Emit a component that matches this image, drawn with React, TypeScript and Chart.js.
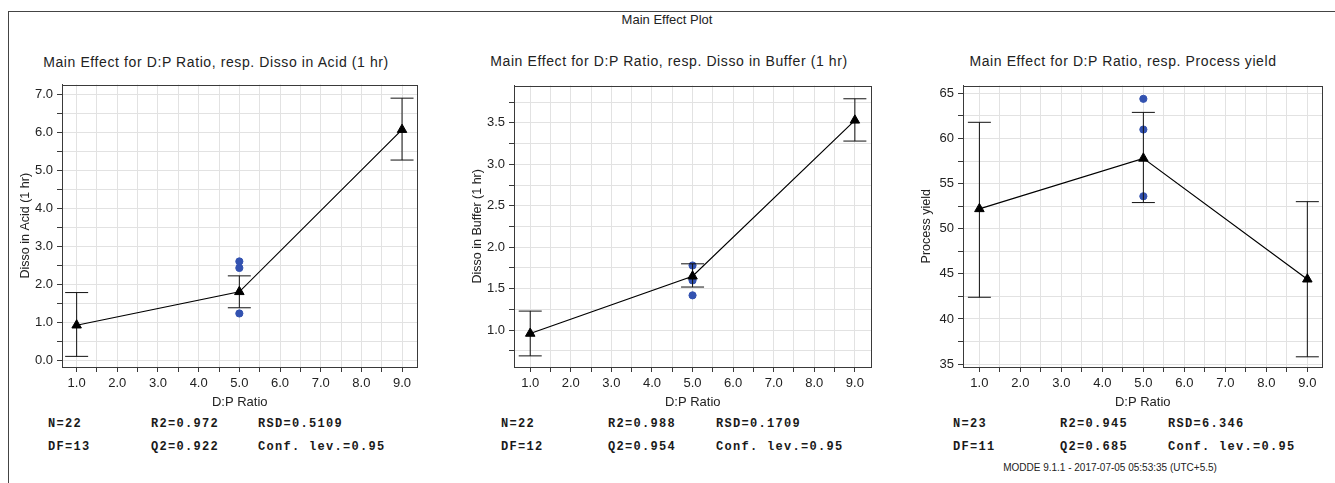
import React, { useEffect, useRef } from "react";
import { Chart, registerables } from "chart.js";

Chart.register(...registerables);

// ---------------- data ----------------
const xLevels = [1, 5, 9];
const obsX = 5;

const acidMean = [0.92, 1.8, 6.07];
const acidLow = [0.1, 1.38, 5.27];
const acidHigh = [1.78, 2.22, 6.9];
const acidObs = [2.6, 2.43, 1.23];

const bufferMean = [0.96, 1.65, 3.53];
const bufferLow = [0.69, 1.52, 3.28];
const bufferHigh = [1.23, 1.8, 3.79];
const bufferObs = [1.78, 1.6, 1.42];

const yieldMean = [52.2, 57.8, 44.4];
const yieldLow = [42.4, 52.9, 35.8];
const yieldHigh = [61.8, 62.9, 53.0];
const yieldObs = [64.4, 61.0, 53.6];

const panelTitles = [
  "Main Effect for D:P Ratio, resp. Disso in Acid (1 hr)",
  "Main Effect for D:P Ratio, resp. Disso in Buffer (1 hr)",
  "Main Effect for D:P Ratio, resp. Process yield",
];
const yTitles = ["Disso in Acid (1 hr)", "Disso in Buffer (1 hr)", "Process yield"];
const xTitle = "D:P Ratio";

const statsCol1 = [["N=22", "DF=13"], ["N=22", "DF=12"], ["N=23", "DF=11"]];
const statsCol2 = [["R2=0.972", "Q2=0.922"], ["R2=0.988", "Q2=0.954"], ["R2=0.945", "Q2=0.685"]];
const statsCol3 = [["RSD=0.5109", "Conf. lev.=0.95"], ["RSD=0.1709", "Conf. lev.=0.95"], ["RSD=6.346", "Conf. lev.=0.95"]];

// ---------------- layout ----------------
const FONT = "'Liberation Sans', Arial, sans-serif";
const MONO = "'Liberation Mono', 'Courier New', monospace";
const Y_W = 48;
const X_H = 44;
const PAD_T = 10;
const PAD_R = 2;

type Panel = {
  plot: { l: number; t: number; r: number; b: number };
  mean: number[];
  low: number[];
  high: number[];
  obs: number[];
  yMin: number;
  yMax: number;
  yStep: number;
  yLabelStep: number;
  yDigits: number;
  yTitle: string;
  xMin: number;
  xMax: number;
};

const panels: Panel[] = [
  { plot: { l: 62, t: 82, r: 428, b: 367 }, mean: acidMean, low: acidLow, high: acidHigh, obs: acidObs,
    yMin: -0.18, yMax: 7.26, yStep: 0.5, yLabelStep: 1, yDigits: 1, yTitle: yTitles[0], xMin: 0.64, xMax: 9.38 },
  { plot: { l: 514, t: 83, r: 882, b: 367 }, mean: bufferMean, low: bufferLow, high: bufferHigh, obs: bufferObs,
    yMin: 0.556, yMax: 3.95, yStep: 0.25, yLabelStep: 0.5, yDigits: 1, yTitle: yTitles[1], xMin: 0.6, xMax: 9.41 },
  { plot: { l: 963, t: 83, r: 1333, b: 367 }, mean: yieldMean, low: yieldLow, high: yieldHigh, obs: yieldObs,
    yMin: 34.67, yMax: 65.88, yStep: 2.5, yLabelStep: 5, yDigits: 0, yTitle: yTitles[2], xMin: 0.6, xMax: 9.37 },
];

const subtitlePos = [
  { x: 216, y: 62 },
  { x: 669, y: 61 },
  { x: 1123, y: 61 },
];
const statsX = [
  [48, 151, 258],
  [501, 608, 716],
  [953, 1060, 1168],
];

const isMult = (v: number, s: number) => Math.abs(v / s - Math.round(v / s)) < 1e-6;

const borderPlugin = {
  id: "plotBorder",
  afterDatasetsDraw(chart: any) {
    const a = chart.chartArea;
    const ctx = chart.ctx;
    ctx.save();
    ctx.strokeStyle = "#3a3a3a";
    ctx.lineWidth = 1;
    ctx.strokeRect(Math.round(a.left) + 0.5, Math.round(a.top) + 0.5, Math.round(a.right - a.left) - 1, Math.round(a.bottom - a.top) - 1);
    ctx.restore();
  },
};

function PanelChart({ p }: { p: Panel }) {
  const ref = useRef<HTMLCanvasElement | null>(null);
  const left = p.plot.l - Y_W;
  const top = p.plot.t - PAD_T;
  const width = p.plot.r + PAD_R - left;
  const height = p.plot.b + X_H - top;

  useEffect(() => {
    if (!ref.current) return;
    const datasets: any[] = [];
    datasets.push({
      data: xLevels.map((x, i) => ({ x, y: p.mean[i] })),
      showLine: true,
      borderColor: "#000",
      borderWidth: 1.2,
      pointStyle: "triangle",
      pointRadius: 5.5,
      pointBackgroundColor: "#000",
      pointBorderColor: "#000",
      pointBorderWidth: 1,
    });
    xLevels.forEach((x, i) => {
      datasets.push({
        data: [{ x, y: p.low[i] }, { x, y: p.high[i] }],
        showLine: true,
        borderColor: "#111",
        borderWidth: 1,
        pointRadius: 0,
      });
    });
    datasets.push({
      data: xLevels.flatMap((x, i) => [{ x, y: p.low[i] }, { x, y: p.high[i] }]),
      showLine: false,
      pointStyle: "line",
      pointRadius: 11.5,
      pointBorderColor: "#111",
      borderColor: "#111",
      pointBorderWidth: 1,
    });
    datasets.push({
      data: p.obs.map((y) => ({ x: obsX, y })),
      showLine: false,
      pointStyle: "circle",
      pointRadius: 3.6,
      pointBackgroundColor: "#3352b0",
      pointBorderColor: "#3352b0",
      backgroundColor: "#3352b0",
      borderColor: "#3352b0",
    });

    const chart = new Chart(ref.current, {
      type: "scatter",
      data: { datasets },
      plugins: [borderPlugin],
      options: {
        responsive: false,
        animation: false,
        events: [],
        layout: { padding: { top: PAD_T, right: PAD_R, left: 0, bottom: 0 } },
        plugins: { legend: { display: false }, tooltip: { enabled: false }, title: { display: false } },
        scales: {
          x: {
            type: "linear",
            min: p.xMin,
            max: p.xMax,
            afterFit: (s: any) => { s.height = X_H; },
            grid: { color: "#e2e2e2", tickColor: "#3a3a3a", tickLength: 5, drawTicks: true },
            border: { display: true, color: "#3a3a3a", width: 1 },
            ticks: {
              stepSize: 0.5,
              includeBounds: false,
              autoSkip: false,
              maxRotation: 0,
              padding: 4,
              color: "#222",
              font: { family: FONT, size: 13 },
              callback: (v: any) => (isMult(Number(v), 1) ? Number(v).toFixed(1) : ""),
            },
            title: { display: true, text: xTitle, color: "#222", font: { family: FONT, size: 13 }, padding: { top: 0, bottom: 1 } },
          },
          y: {
            type: "linear",
            min: p.yMin,
            max: p.yMax,
            afterFit: (s: any) => { s.width = Y_W; },
            grid: { color: "#e2e2e2", tickColor: "#3a3a3a", tickLength: 5, drawTicks: true },
            border: { display: true, color: "#3a3a3a", width: 1 },
            ticks: {
              stepSize: p.yStep,
              includeBounds: false,
              autoSkip: false,
              padding: 4,
              color: "#222",
              font: { family: FONT, size: 13 },
              callback: (v: any) => (isMult(Number(v), p.yLabelStep) ? Number(v).toFixed(p.yDigits) : ""),
            },
            title: { display: true, text: p.yTitle, color: "#222", font: { family: FONT, size: 12.5 }, padding: { top: 4, bottom: 0 } },
          },
        },
      } as any,
    });
    return () => chart.destroy();
  }, []);

  return (
    <canvas
      ref={ref}
      width={width}
      height={height}
      style={{ position: "absolute", left, top, width, height }}
    />
  );
}

export default function App() {
  const txt: React.CSSProperties = { position: "absolute", whiteSpace: "nowrap", color: "#222" };
  return (
    <div style={{ position: "absolute", left: 0, top: 0, width: 1335, height: 483, overflow: "hidden", background: "#fff" }}>
      <div style={{ position: "absolute", left: 8, top: 11, width: 1340, height: 480, borderTop: "1px solid #444", borderLeft: "1px solid #444" }} />
      <div style={{ ...txt, left: 667, top: 19, transform: "translate(-50%,-50%)", font: `13px ${FONT}` }}>Main Effect Plot</div>
      {panels.map((p, i) => (
        <React.Fragment key={i}>
          <div style={{ ...txt, left: subtitlePos[i].x, top: subtitlePos[i].y, transform: "translate(-50%,-50%)", font: `14px ${FONT}`, letterSpacing: "0.6px" }}>
            {panelTitles[i]}
          </div>
          <PanelChart p={p} />
          {[statsCol1[i], statsCol2[i], statsCol3[i]].map((col, c) =>
            col.map((s, r) => (
              <div
                key={`${c}-${r}`}
                style={{ ...txt, left: statsX[i][c], top: r === 0 ? 424 : 447, transform: "translateY(-50%)", font: `bold 12px ${MONO}`, letterSpacing: "1.3px", color: "#1a1a1a" }}
              >
                {s}
              </div>
            ))
          )}
        </React.Fragment>
      ))}
      <div style={{ ...txt, left: 1110, top: 467, transform: "translate(-50%,-50%)", font: `10px ${FONT}` }}>
        MODDE 9.1.1 - 2017-07-05 05:53:35 (UTC+5.5)
      </div>
    </div>
  );
}
